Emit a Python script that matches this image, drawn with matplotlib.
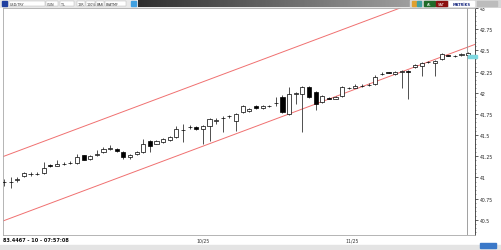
import matplotlib.pyplot as plt
import numpy as np

W, H = 501, 251

# OHLC per bar
opens = [40.94, 40.94, 40.97, 41.02, 41.04, 41.04, 41.05, 41.15, 41.14, 41.16,
         41.17, 41.17, 41.26, 41.22, 41.26, 41.30, 41.34, 41.33, 41.30, 41.24,
         41.28, 41.30, 41.43, 41.40, 41.42, 41.44, 41.48, 41.56, 41.59, 41.60,
         41.57, 41.61, 41.67, 41.70, 41.72, 41.67, 41.77, 41.78, 41.84, 41.82,
         41.84, 41.88, 41.95, 41.75, 41.99, 41.99, 42.07, 42.01, 41.89, 41.94,
         41.93, 41.96, 42.05, 42.06, 42.08, 42.09, 42.10, 42.22, 42.25, 42.22,
         42.24, 42.26, 42.30, 42.32, 42.36, 42.35, 42.40, 42.445, 42.43, 42.44,
         42.45]
closes = [40.95, 40.94, 40.98, 41.05, 41.04, 41.045, 41.11, 41.13, 41.16, 41.16,
          41.17, 41.24, 41.21, 41.25, 41.28, 41.33, 41.34, 41.31, 41.24, 41.27,
          41.30, 41.40, 41.37, 41.43, 41.45, 41.48, 41.57, 41.56, 41.59, 41.57,
          41.61, 41.69, 41.675, 41.70, 41.72, 41.75, 41.84, 41.81, 41.82, 41.84,
          41.84, 41.88, 41.77, 41.99, 41.99, 42.07, 41.95, 41.87, 41.96, 41.93,
          41.95, 42.07, 42.05, 42.08, 42.08, 42.09, 42.19, 42.22, 42.235, 42.25,
          42.26, 42.245, 42.33, 42.35, 42.36, 42.38, 42.46, 42.435, 42.43, 42.46,
          42.47]
highs = [40.98, 41.00, 41.01, 41.06, 41.06, 41.06, 41.18, 41.16, 41.20, 41.18,
         41.19, 41.28, 41.27, 41.26, 41.32, 41.36, 41.38, 41.35, 41.31, 41.28,
         41.31, 41.45, 41.44, 41.44, 41.46, 41.49, 41.61, 41.63, 41.62, 41.61,
         41.62, 41.70, 41.70, 41.72, 41.74, 41.76, 41.85, 41.82, 41.85, 41.85,
         41.86, 41.95, 41.97, 42.07, 42.01, 42.08, 42.08, 42.02, 41.97, 41.95,
         41.96, 42.08, 42.07, 42.10, 42.10, 42.11, 42.21, 42.25, 42.25, 42.26,
         42.27, 42.27, 42.34, 42.36, 42.38, 42.39, 42.47, 42.45, 42.45, 42.47,
         42.48]
lows = [40.90, 40.88, 40.95, 41.01, 41.02, 41.03, 41.04, 41.12, 41.13, 41.15,
        41.16, 41.16, 41.20, 41.21, 41.25, 41.29, 41.32, 41.30, 41.22, 41.22,
        41.27, 41.29, 41.30, 41.39, 41.41, 41.43, 41.47, 41.42, 41.57, 41.56,
        41.40, 41.43, 41.63, 41.54, 41.70, 41.55, 41.76, 41.77, 41.81, 41.81,
        41.83, 41.84, 41.76, 41.74, 41.87, 41.54, 41.94, 41.80, 41.88, 41.92,
        41.92, 41.95, 42.04, 42.05, 42.07, 42.08, 42.09, 42.21, 42.23, 42.21,
        42.06, 41.93, 42.29, 42.20, 42.35, 42.20, 42.39, 42.43, 42.42, 42.43,
        42.44]

price_ticks = [43, 42.75, 42.5, 42.25, 42, 41.75, 41.5, 41.25, 41, 40.75, 40.5]
price_labels = ['43', '42.75', '42.5', '42.25', '42', '41.75', '41.5',
                '41.25', '41', '40.75', '40.5']
date_pos = [30, 52.5]
date_labels = ['10/25', '11/25']

# trend channel: lower line at first and last bar, upper line offset
channel_low = [40.49, 42.54]
channel_gap = 0.76


def fx(px):
    return px / W


def fy(py):
    return 1 - py / H


fig = plt.figure(figsize=(W / 100, H / 100), dpi=100)
fig.patch.set_facecolor('white')

# main chart
ax = fig.add_axes([fx(3), fy(236), fx(475) - fx(3), (236 - 9) / H])
n = len(opens)
x = np.arange(n)
o = np.array(opens)
c = np.array(closes)
up = c >= o
ax.vlines(x, lows, highs, color='#333333', lw=0.6, zorder=2)
body = np.maximum(np.abs(c - o), 0.004)
ax.bar(x, body, bottom=np.minimum(o, c), width=0.62,
       color=np.where(up, 'white', 'black'), edgecolor='black', lw=0.5, zorder=3)

xs = [x[0] - 0.15, x[-1] + 1.04]
slope = (channel_low[1] - channel_low[0]) / (n - 1)
low_line = [channel_low[0] + slope * (xx - x[0]) for xx in xs]
ax.plot(xs, low_line, color='#f07070', lw=0.7, zorder=1)
ax.plot(xs, [v + channel_gap for v in low_line], color='#f07070', lw=0.7, zorder=1)

ax.axvline(69.85, color='#909090', lw=0.6)
ax.set_xlim(-0.15, 71.04)
ax.set_ylim(40.32, 43.0)

ax.yaxis.tick_right()
ax.set_yticks(price_ticks, price_labels)
ax.set_yticks(np.arange(40.35, 43.0, 0.05), minor=True)
ax.tick_params(axis='y', which='major', length=2.5, width=0.5, labelsize=3.3,
               pad=1, colors='#222222')
ax.tick_params(axis='y', which='minor', length=1, width=0.4, colors='#444444')
ax.set_xticks(date_pos, date_labels)
ax.tick_params(axis='x', length=0, labelsize=3.3, pad=2, colors='#333333')
for s in ['left', 'bottom', 'top']:
    ax.spines[s].set_color('#a8a8a8')
    ax.spines[s].set_linewidth(0.6)
ax.spines['right'].set_color('#333333')
ax.spines['right'].set_linewidth(0.6)

# current price marker
fig.patches.append(plt.Rectangle((fx(468), fy(59)), 9 / W, 3 / H,
                                 transform=fig.transFigure, color='#7fd8e0'))

# toolbar
bar = fig.add_axes([0, fy(9), 1, 9 / H])
bar.set_facecolor('#e8e8e8')
bar.set_xlim(0, W)
bar.set_ylim(9, 0)
bar.set_xticks([])
bar.set_yticks([])
for s in bar.spines.values():
    s.set_visible(False)
grad = np.linspace(0.18, 0.62, 256).reshape(1, -1)
bar.imshow(grad, cmap='gray', vmin=0, vmax=1, extent=(138, 410, 8, 1),
           aspect='auto', zorder=1)
bar.add_patch(plt.Rectangle((410, 1), 91, 7, color='#d8d8d8', zorder=1))
bar.add_patch(plt.Rectangle((424, 2), 11, 5, color='#1f6b2a', zorder=2))
bar.add_patch(plt.Rectangle((436, 2), 11, 5, color='#8b1010', zorder=2))
bar.add_patch(plt.Rectangle((449, 2), 25, 5, color='white', zorder=2))
bar.add_patch(plt.Rectangle((477, 2), 20, 5, color='#bcbcbc', zorder=2))
bar.add_patch(plt.Rectangle((412, 2), 4, 5, color='#e0a030', zorder=2))
bar.add_patch(plt.Rectangle((417, 2), 4, 5, color='#40a0a0', zorder=2))
bar.text(429.5, 4.7, 'AL', fontsize=2.6, color='white', ha='center', va='center')
bar.text(441.5, 4.7, 'SAT', fontsize=2.6, color='white', ha='center', va='center')
bar.text(461.5, 4.7, 'MATRİKS', fontsize=2.6, color='#1a2a80', ha='center',
         va='center', weight='bold')
bar.add_patch(plt.Rectangle((2, 2), 5, 5, color='#2040a0'))
for x0, w, t in [(9, 36, 'USD/TRY'), (46, 12, 'GUN'), (60, 14, 'TL'),
                 (77, 8, '12R'), (86, 9, '100%'), (96, 8, 'BAR'),
                 (105, 21, 'BYATMF')]:
    bar.add_patch(plt.Rectangle((x0, 2), w, 5, facecolor='white',
                                edgecolor='#b0b0b0', lw=0.3))
    bar.text(x0 + 1, 4.7, t, fontsize=2.4, color='#333333', va='center')
bar.add_patch(plt.Rectangle((131, 2), 5, 5, color='#40a0e0'))

# status line
fig.text(fx(3), fy(241), '83.4467 - 10 - 07:57:08', fontsize=3.6,
         weight='bold', va='center', color='#111111')
fig.patches.append(plt.Rectangle((fx(0), fy(251)), 1, 5 / H,
                                 transform=fig.transFigure, color='#e4e4e4'))
fig.patches.append(plt.Rectangle((fx(480), fy(249)), 16 / W, 5 / H,
                                 transform=fig.transFigure, color='#3a78c8'))

fig.savefig('out.png', dpi=100)
